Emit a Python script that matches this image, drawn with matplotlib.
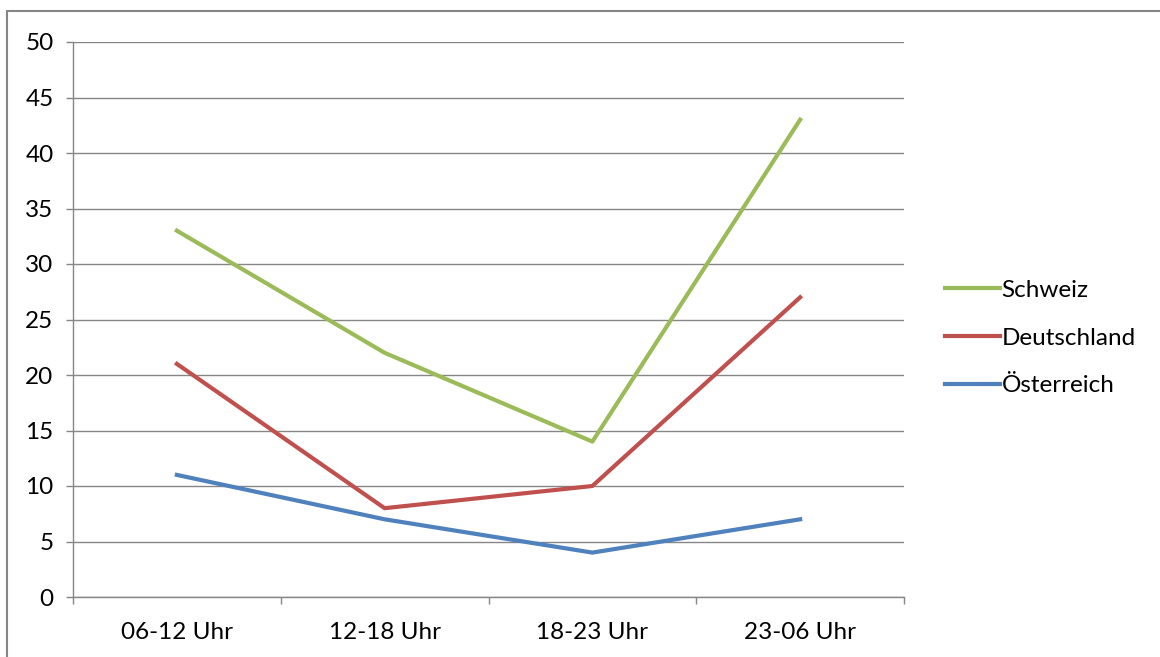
import matplotlib
matplotlib.use("Agg")
import matplotlib.pyplot as plt
from matplotlib.patches import Rectangle

plt.rcParams["font.family"] = ["Lato", "DejaVu Sans"]

# data
categories = ["06-12 Uhr", "12-18 Uhr", "18-23 Uhr", "23-06 Uhr"]
schweiz = [33, 22, 14, 43]
deutschland = [21, 8, 10, 27]
oesterreich = [11, 7, 4, 7]
yticks = [0, 5, 10, 15, 20, 25, 30, 35, 40, 45, 50]

GRID = "#868686"
FS = 17.5
W, H = 1160, 657

fig = plt.figure(figsize=(W / 100, H / 100), dpi=100)
ax = fig.add_axes([73 / W, (H - 597) / H, (904 - 73) / W, (597 - 42) / H])

x = range(len(categories))
ax.plot(x, schweiz, color="#9BBB59", lw=3, label="Schweiz", solid_joinstyle="round")
ax.plot(x, deutschland, color="#C0504D", lw=3, label="Deutschland", solid_joinstyle="round")
ax.plot(x, oesterreich, color="#4F81BD", lw=3, label="Österreich", solid_joinstyle="round")

ax.set_xlim(-0.5, len(categories) - 0.5)
ax.set_ylim(0, 50)
ax.set_yticks(yticks)
ax.set_yticklabels([str(v) for v in yticks], fontsize=FS)
ax.set_xticks(list(x))
ax.set_xticklabels(categories, fontsize=FS)
ax.set_xticks([i - 0.5 for i in range(len(categories) + 1)], minor=True)
ax.tick_params(axis="x", which="major", length=0, pad=18)
ax.tick_params(axis="x", which="minor", length=5, color=GRID, width=1, direction="out")
ax.tick_params(axis="y", length=5, color=GRID, width=1, direction="out", pad=9)
ax.grid(True, axis="y", color=GRID, lw=1)
ax.set_axisbelow(True)
for s in ["top", "right"]:
    ax.spines[s].set_visible(False)
for s in ["left", "bottom"]:
    ax.spines[s].set_color(GRID)
    ax.spines[s].set_linewidth(1)

fig.legend(loc="center left", bbox_to_anchor=(945 / W, (H - 338) / H), frameon=False,
           fontsize=FS, handlelength=2.25, handletextpad=0.08, labelspacing=1.1,
           borderpad=0, borderaxespad=0)

# outer chart border
fig.patches.append(Rectangle((7 / W, -0.1), 1.2, (H - 11) / H + 0.1, transform=fig.transFigure,
                             fill=False, edgecolor=GRID, lw=1.5))

plt.savefig("out.png", dpi=100)
